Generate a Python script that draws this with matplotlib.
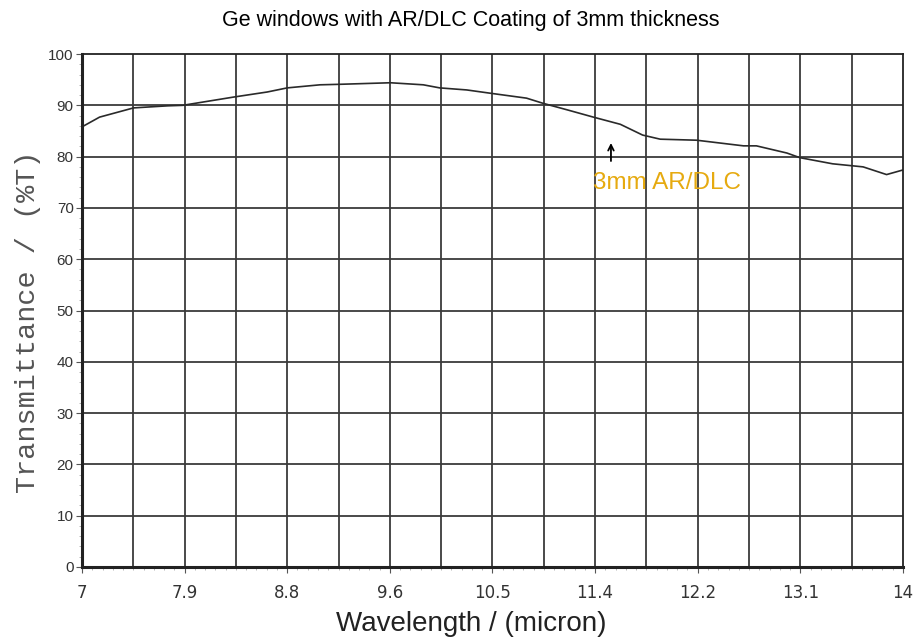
import matplotlib.pyplot as plt
from matplotlib.ticker import MultipleLocator

# wavelength (micron) and transmittance (%T)
wavelength = [7.0, 7.15, 7.44, 7.73, 7.86, 8.29, 8.58, 8.75, 9.03, 9.2, 9.63,
              9.91, 10.05, 10.28, 10.5, 10.79, 10.93, 11.14, 11.36, 11.59,
              11.78, 11.93, 12.24, 12.64, 12.75, 13.01, 13.12, 13.4, 13.66,
              13.86, 14.0]
transmittance = [85.8, 87.7, 89.5, 89.9, 90.0, 91.6, 92.6, 93.4, 94.0, 94.1,
                 94.4, 94.0, 93.4, 93.0, 92.3, 91.4, 90.4, 89.1, 87.7, 86.3,
                 84.2, 83.4, 83.2, 82.1, 82.1, 80.7, 79.8, 78.6, 78.0, 76.5,
                 77.4]

xticks = [7 + i * 0.875 for i in range(9)]
xlabels = ['7', '7.9', '8.8', '9.6', '10.5', '11.4', '12.2', '13.1', '14']
yticks = list(range(0, 101, 10))

fig = plt.figure(figsize=(9.19, 6.44), dpi=100)
ax = fig.add_axes([0.0892, 0.1196, 0.8934, 0.7965])

ax.plot(wavelength, transmittance, color='#2a2a2a', lw=1.2)

ax.set_xlim(7, 14)
ax.set_ylim(0, 100)
ax.set_xticks(xticks)
ax.set_xticklabels(xlabels, fontsize=12, color='#333333', family='DejaVu Sans')
ax.set_yticks(yticks)
ax.set_yticklabels([str(v) for v in yticks], fontsize=11, color='#333333',
                   family='Liberation Sans')
ax.xaxis.set_minor_locator(MultipleLocator(0.0875))
ax.yaxis.set_minor_locator(MultipleLocator(2))
ax.tick_params(axis='x', which='major', length=4, pad=8, color='#555555')
ax.tick_params(axis='y', which='major', length=4, pad=2, color='#555555')
ax.tick_params(which='minor', length=2, color='#aaaaaa')

# grid every half label step on x, every 10 on y
for gx in [7 + i * 0.4375 for i in range(1, 16)]:
    ax.axvline(gx, color='#3a3a3a', lw=1.3, zorder=0)
for gy in yticks[1:-1]:
    ax.axhline(gy, color='#3a3a3a', lw=1.3, zorder=0)

for s in ax.spines.values():
    s.set_color('#222222')
    s.set_linewidth(1.3)
ax.spines['left'].set_linewidth(2.2)
ax.spines['bottom'].set_linewidth(2.2)

ax.annotate('', xy=(11.51, 83.2), xytext=(11.51, 78.6),
            arrowprops=dict(arrowstyle='->', color='black', lw=1.3))
ax.text(11.36, 74.9, '3mm AR/DLC', color='#e6aa10', fontsize=17.5,
        family='Liberation Sans', va='center', ha='left')

ax.set_xlabel('Wavelength / (micron)', fontsize=20, family='Liberation Sans',
              color='#222222')
ax.xaxis.set_label_coords(0.474, -0.085)
ax.set_ylabel('Transmittance / (%T)', fontsize=20.5, family='Liberation Mono',
              color='#555555')
ax.yaxis.set_label_coords(-0.050, 0.478)
fig.text(0.512, 0.968, 'Ge windows with AR/DLC Coating of 3mm thickness',
         ha='center', va='center', fontsize=15.5, family='Liberation Sans')

fig.savefig('out.png', dpi=100)
